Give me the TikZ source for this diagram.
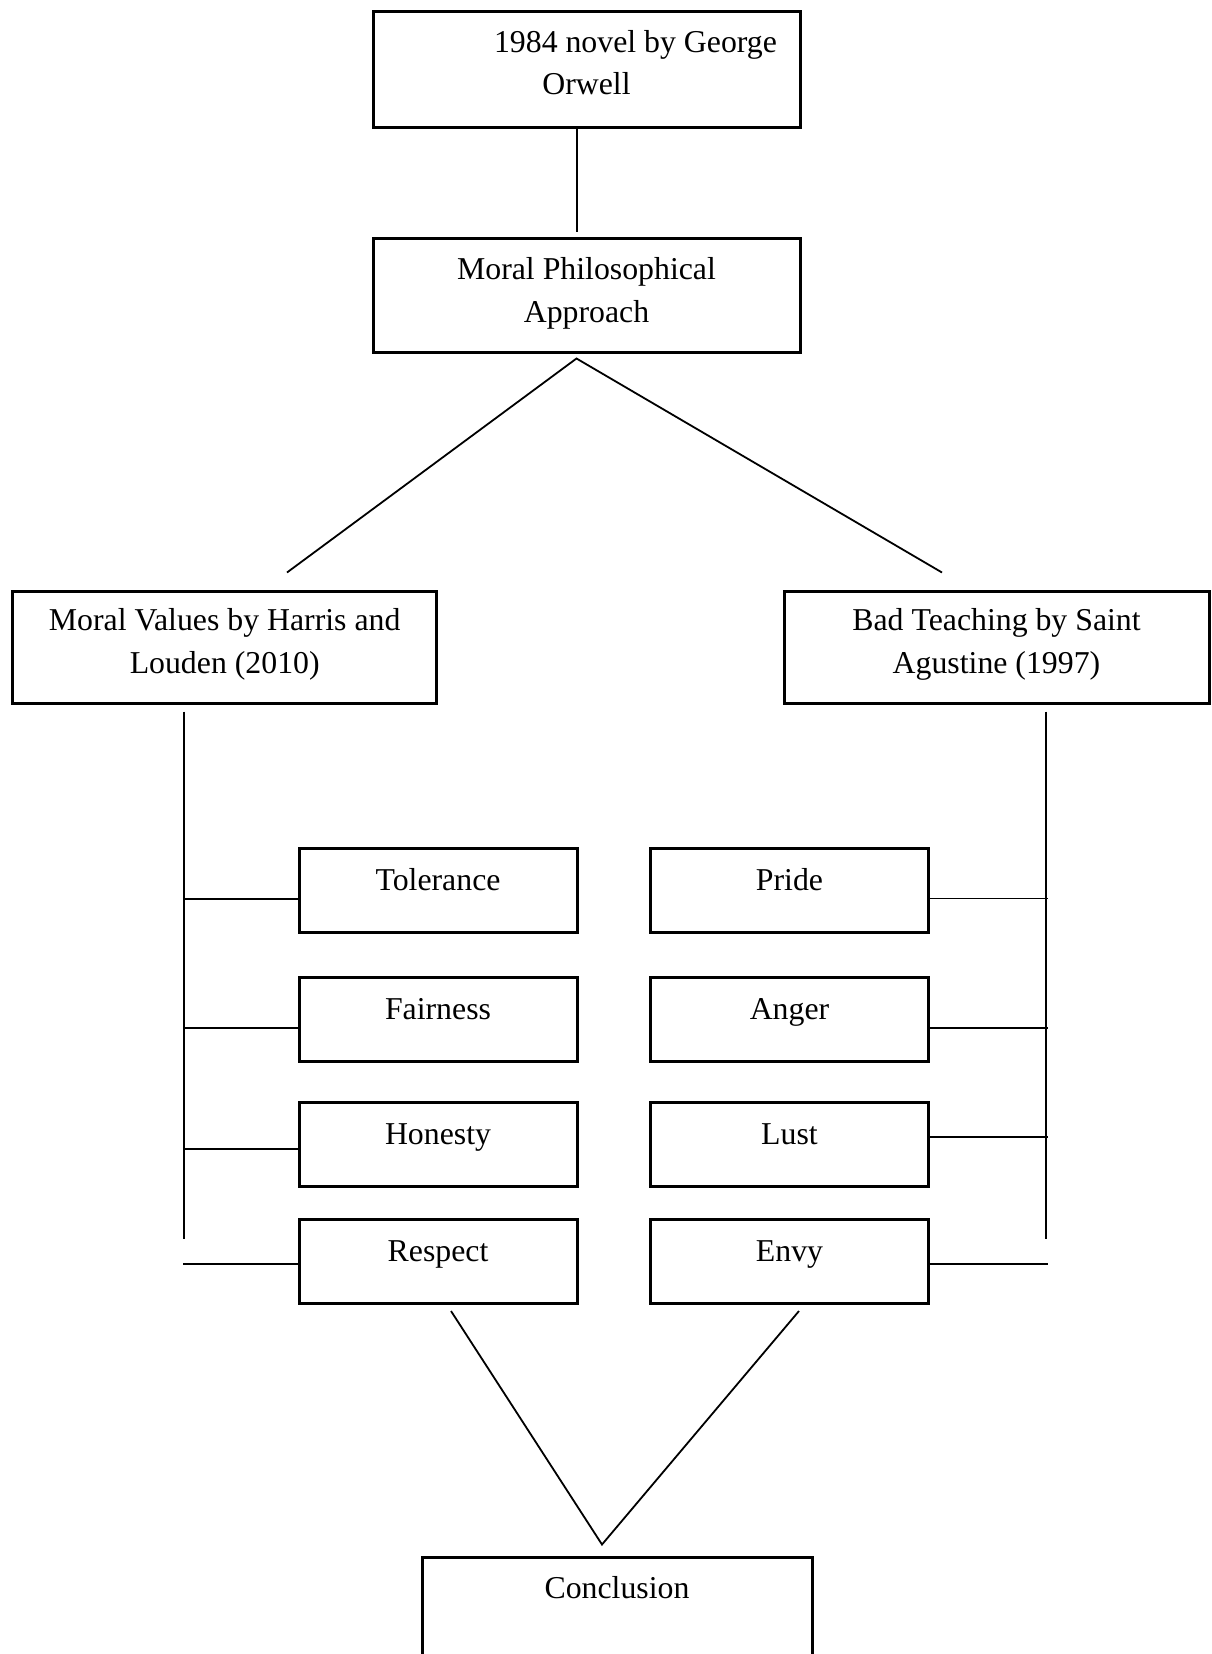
\documentclass[tikz,border=0pt]{standalone}
\usepackage{fontspec}
\setmainfont{Liberation Serif}
\begin{document}
\begin{tikzpicture}[x=1pt, y=-1pt, main/.style = {draw, line width=3pt, inner sep=0pt, align=center, text height=23pt, font=\fontsize{31.8}{43}\selectfont}, item/.style = {main, minimum width=278pt, minimum height=84pt, text depth=23pt}, link/.style = {line width=1.8pt}]
\path[fill=white, use as bounding box] (0,0) rectangle (1211,1654);

\node[main, minimum width=427pt, minimum height=115pt, text height=66pt, text depth=15pt] (1) at (586.5,69.5) {\hspace*{98pt}1984 novel by George\\Orwell};
\node[main, minimum width=427pt, minimum height=114pt, text height=66pt, text depth=12pt] (2) at (586.5,295) {Moral Philosophical\\Approach};
\node[main, minimum width=424pt, minimum height=112pt, text height=66pt, text depth=15pt] (3) at (224.7,647.5) {Moral Values by Harris and\\Louden (2010)};
\node[main, minimum width=425pt, minimum height=112pt, text height=66pt, text depth=15pt] (4) at (996.5,647.5) {Bad Teaching by Saint\\Agustine (1997)};

\node[item] (5) at (438,890) {Tolerance};
\node[item] (6) [below of=5, node distance=129.5pt] {Fairness};
\node[item] (7) [below of=6, node distance=124.5pt] {Honesty};
\node[item] (8) [below of=7, node distance=117.5pt] {Respect};

\node[item] (9) at (789.5,890) {Pride};
\node[item] (10) [below of=9, node distance=129.5pt] {Anger};
\node[item] (11) [below of=10, node distance=124.5pt] {Lust};
\node[item] (12) [below of=11, node distance=117.5pt] {Envy};

\node[main, minimum width=390pt, minimum height=143pt, text depth=84pt] (13) at (617,1628.5) {Conclusion};

\coordinate (top) at ([xshift=-10pt,yshift=-5pt]2.south);
\coordinate (bottom) at ([xshift=-15pt,yshift=11pt]13.north);

\draw[link] ([xshift=-9.5pt]1.south) -- ([xshift=-9.5pt,yshift=5pt]2.north);
\draw[link] ([xshift=62.3pt,yshift=17.5pt]3.north) -- (top) -- ([xshift=-54.5pt,yshift=17.5pt]4.north);

\draw[link] ([xshift=-40.7pt,yshift=-6.5pt]3.south) -- ++(0,527);
\draw[link] ([xshift=49.5pt,yshift=-6.5pt]4.south) -- ++(0,527);

\draw[link] ([yshift=-9pt]5.west) -- ++(-115,0);
\draw[link] ([yshift=-8.5pt]6.west) -- ++(-115,0);
\draw[link] ([yshift=-5pt]7.west) -- ++(-115,0);
\draw[link] ([yshift=-2.5pt]8.west) -- ++(-115,0);

\draw[link] ([yshift=-8.5pt]9.east) -- ++(118,0);
\draw[link] ([yshift=-8.5pt]10.east) -- ++(118,0);
\draw[link] ([yshift=7pt]11.east) -- ++(118,0);
\draw[link] ([yshift=-2.5pt]12.east) -- ++(118,0);

\draw[link] ([xshift=13pt,yshift=-6pt]8.south) -- (bottom) -- ([xshift=9.5pt,yshift=-6pt]12.south);
\end{tikzpicture}
\end{document}
